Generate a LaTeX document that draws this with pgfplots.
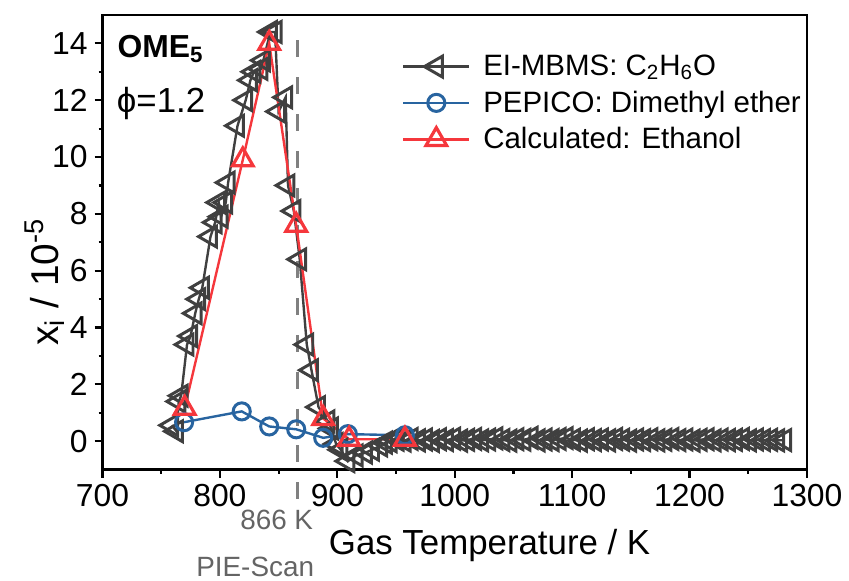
\documentclass[border=0pt]{standalone}
\usepackage{fontspec}
\setmainfont{Liberation Sans}
\usepackage{pgfplots}
\pgfplotsset{compat=1.18}

\definecolor{eigray}{RGB}{64,64,64}
\definecolor{pepblue}{RGB}{40,100,160}
\definecolor{calcred}{RGB}{245,55,60}
\definecolor{pieline}{RGB}{128,128,128}
\definecolor{pietext}{RGB}{100,100,100}

\begin{document}
\begin{tikzpicture}
\begin{axis}[
  scale only axis, width=354pt, height=228.5pt,
  xmin=700, xmax=1300, ymin=-1, ymax=15,
  xtick={700,800,...,1300}, ytick={0,2,...,14},
  minor x tick num=1, minor y tick num=1,
  tick align=outside, xtick pos=bottom, ytick pos=left,
  major tick length=4pt, minor tick length=2pt,
  axis line style={line width=1.3pt},
  every tick/.style={line width=1.1pt, black},
  /pgf/number format/assume math mode=true,
  /pgf/number format/set thousands separator={},
  ticklabel style={font=\fontsize{16}{19}\selectfont},
  clip=false,
  legend style={draw=none, fill=none, at={(axis cs:955,13.75)}, anchor=north west,
    font=\fontsize{14.8}{17}\selectfont, row sep=2.2pt, inner sep=0pt,
    nodes={inner xsep=6.5pt}},
  legend cell align=left,
  legend image code/.code={\draw[mark repeat=2,mark phase=2,#1]
    plot coordinates {(0pt,0pt) (16.5pt,0pt) (33pt,0pt)};},
]
\draw[pieline, line width=1.6pt, dash pattern=on 8.5pt off 10pt]
  (axis cs:866,14.1) -- (axis cs:866,-2.45);

\addplot[eigray, line width=1.2pt, mark=triangle, mark size=6pt,
  mark options={rotate=90, fill=white, solid, line width=1.5pt}]
coordinates {
(759,0.56) (763,0.35) (765,1.4) (767,1.6) (772,3.4) (775,3.7) (779,4.5)
(782,5.0) (785,5.4) (792,7.2) (796,7.7) (799,8.4) (801,7.9) (805,8.4)
(807,9.1) (815,11.1) (822,12.0) (826,12.7) (829,13.0) (835,13.1) (837,13.4)
(843,14.4) (847,14.4) (850,11.6) (856,12.1) (858,9.0) (863,8.1) (868,6.4)
(874,3.4) (878,2.5) (884,1.2) (892,0.7) (895,0.45) (899,-0.1) (903,-0.3)
(909,-0.7) (916,-0.5) (924,-0.4) (930,-0.3) (937,-0.15) (941,-0.05)
(945,0.00) (951,0.05) (957,0.02) (963,0.08) (969,0.03) (975,0.06) (981,0.01)
(987,0.07) (993,0.04) (999,0.09) (1005,0.02) (1011,0.05) (1017,0.08)
(1023,0.03) (1029,0.06) (1035,0.10) (1041,0.04) (1047,0.02) (1053,0.07)
(1059,0.05) (1065,0.12) (1071,0.03) (1077,0.06) (1083,0.04) (1089,0.08)
(1095,0.11) (1101,0.05) (1107,0.02) (1113,0.07) (1119,0.04) (1125,0.06)
(1131,0.03) (1137,0.08) (1143,0.05) (1149,0.02) (1155,0.06) (1161,0.04)
(1167,0.07) (1173,0.03) (1179,0.05) (1185,0.08) (1191,0.04) (1197,0.06)
(1203,0.02) (1209,0.05) (1215,0.07) (1221,0.03) (1227,0.06) (1233,0.04)
(1239,0.05) (1245,0.08) (1251,0.03) (1257,0.06) (1263,0.04) (1269,0.05)
(1275,0.03) (1281,0.04)
};
\addlegendentry{EI-MBMS: C\textsubscript{2}H\textsubscript{6}O}

\addplot[pepblue, line width=1.2pt, mark=o, mark size=4.3pt,
  mark options={fill=white, solid, line width=1.5pt}]
coordinates {
(769.5,0.67) (818.6,1.05) (842,0.52) (865,0.42) (888,0.12) (909,0.25) (957.6,0.21)
};
\addlegendentry{PEPICO: Dimethyl ether}

\addplot[calcred, line width=1.2pt, mark=triangle, mark size=6pt,
  mark options={fill=white, solid, line width=1.6pt}]
coordinates {
(770,1.16) (819.5,9.9) (842,14.0) (865,7.6) (888,0.8) (910,0.07) (957.6,0.07)
};
\addlegendentry{Calculated: Ethanol}

\node[anchor=west, font=\bfseries\fontsize{16}{19}\selectfont, inner sep=0pt]
  at (axis cs:712.5,13.8) {OME\textsubscript{5}};
\node[anchor=west, font=\fontsize{17.5}{21}\selectfont, inner sep=0pt]
  at (axis cs:712,11.9) {ϕ=1.2};
\node[anchor=east, text=pietext, font=\fontsize{14}{16}\selectfont, inner sep=0pt]
  at (axis cs:879.7,-2.77) {866 K};
\node[anchor=east, text=pietext, font=\fontsize{14}{16}\selectfont, inner sep=0pt]
  at (axis cs:880.5,-4.42) {PIE-Scan};
\node[font=\fontsize{17.5}{21}\selectfont, inner sep=0pt]
  at (axis cs:1029.7,-3.68) {Gas Temperature / K};
\node[rotate=90, font=\fontsize{19.5}{23}\selectfont, inner sep=0pt]
  at (axis cs:650.5,5.6) {x\textsubscript{i} / 10\textsuperscript{-5}};

\coordinate (bl) at ([xshift=-51.5pt,yshift=-55.5pt]rel axis cs:0,0);
\coordinate (tr) at ([xshift=19pt,yshift=7.5pt]rel axis cs:1,1);
\end{axis}
\path (bl) rectangle (tr);
\end{tikzpicture}
\end{document}
